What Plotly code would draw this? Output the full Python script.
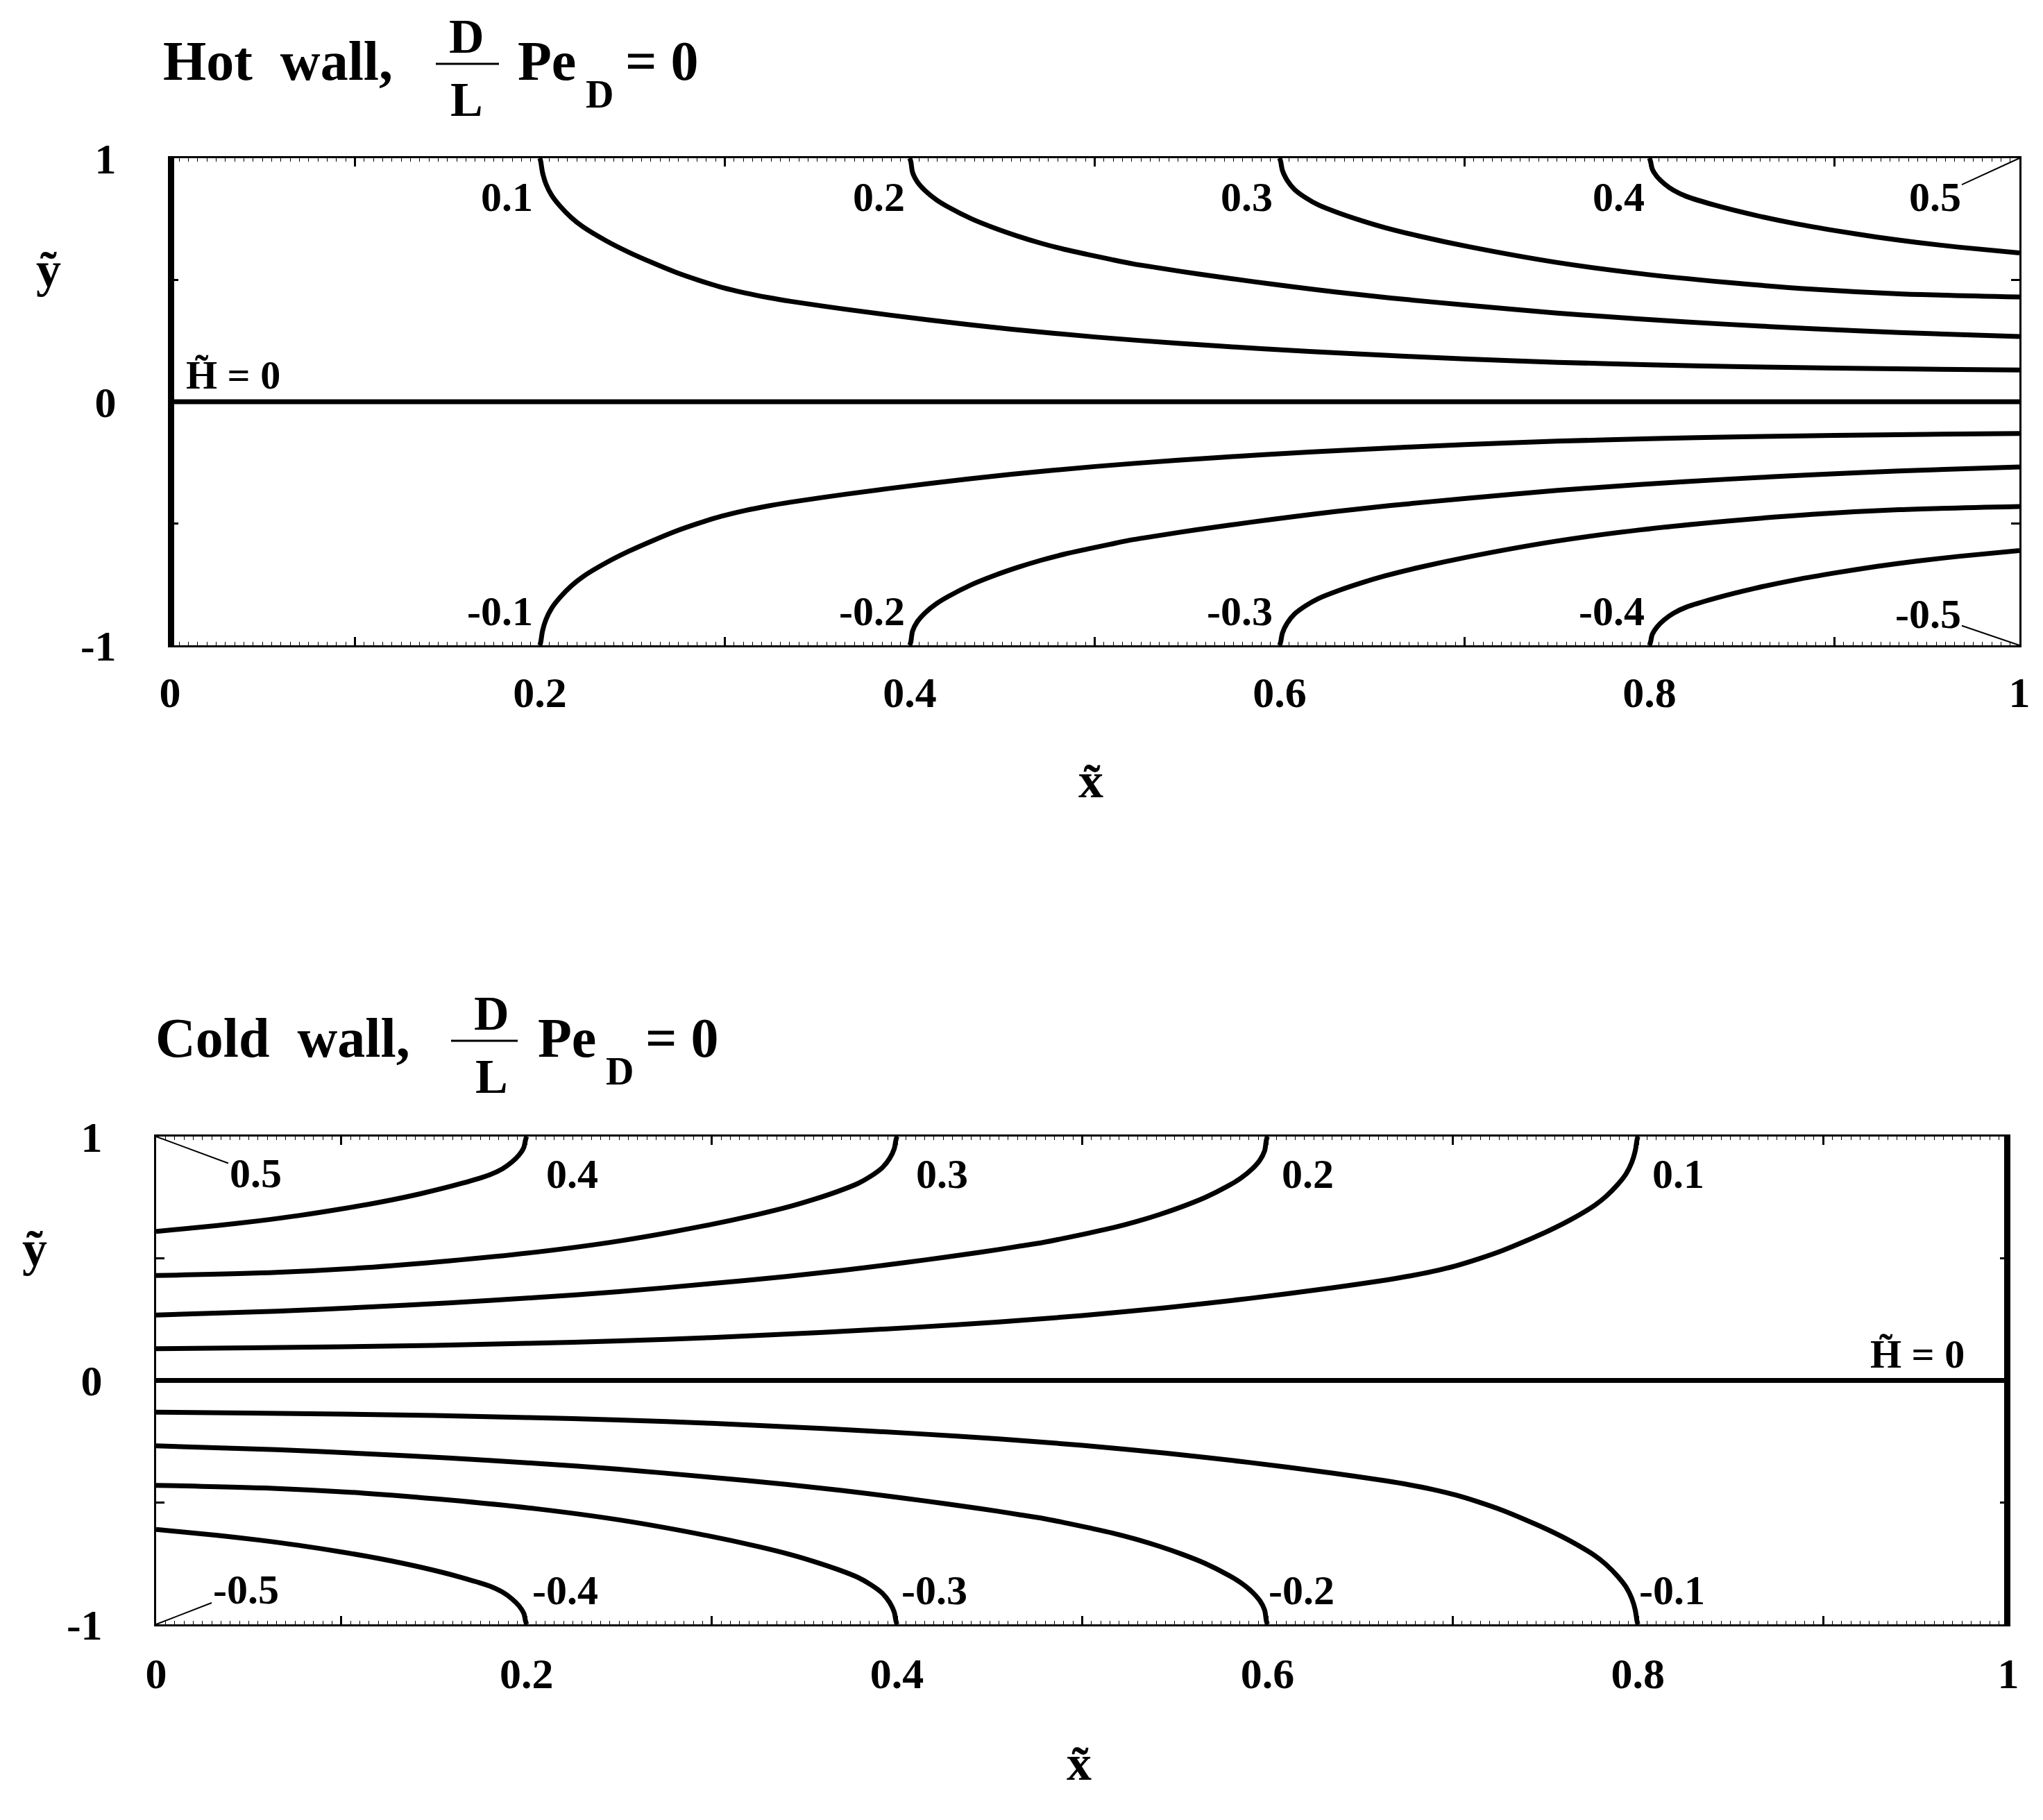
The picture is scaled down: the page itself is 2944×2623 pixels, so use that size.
import plotly.graph_objects as go

W, H = 2944, 2623

# ---------------- data ----------------
# Heatline levels (upper half of the "Hot wall" panel; other halves/panel are mirror images)
levels = [0.1, 0.2, 0.3, 0.4]

h01_x = [0.2000, 0.2005, 0.2014, 0.2033, 0.2064, 0.2108, 0.2170, 0.2233, 0.2358, 0.2483, 0.2608,
         0.2733, 0.2858, 0.2983, 0.3108, 0.3233, 0.3358, 0.365, 0.410, 0.455, 0.500, 0.545,
         0.590, 0.640, 0.700, 0.750, 0.800, 0.850, 0.900, 0.950, 1.000]
h01_y = [1.000, 0.985, 0.942, 0.894, 0.847, 0.804, 0.756, 0.718, 0.661, 0.613, 0.571,
         0.532, 0.499, 0.470, 0.447, 0.428, 0.412, 0.380, 0.336, 0.298, 0.266, 0.240,
         0.218, 0.197, 0.176, 0.162, 0.152, 0.144, 0.138, 0.134, 0.130]

h02_x = [0.4000, 0.4006, 0.4015, 0.4040, 0.4084, 0.4146, 0.4209, 0.4334, 0.4459, 0.4584, 0.4709,
         0.4834, 0.4959, 0.5084, 0.5209, 0.5334, 0.5459, 0.563, 0.585, 0.607, 0.630, 0.660,
         0.702, 0.750, 0.795, 0.842, 0.888, 0.935, 1.000]
h02_y = [1.000, 0.985, 0.942, 0.904, 0.866, 0.828, 0.799, 0.751, 0.713, 0.680, 0.651,
         0.626, 0.605, 0.585, 0.566, 0.551, 0.536, 0.517, 0.494, 0.472, 0.451, 0.426,
         0.396, 0.364, 0.340, 0.318, 0.300, 0.284, 0.268]

h03_x = [0.600, 0.6006, 0.6015, 0.604, 0.608, 0.614, 0.621, 0.632, 0.645, 0.657, 0.675, 0.702,
         0.749, 0.795, 0.842, 0.888, 0.935, 1.000]
h03_y = [1.000, 0.985, 0.950, 0.910, 0.872, 0.838, 0.808, 0.775, 0.742, 0.715, 0.681, 0.637,
         0.573, 0.526, 0.490, 0.462, 0.443, 0.430]

h04_x = [0.800, 0.8006, 0.8015, 0.804, 0.808, 0.813, 0.820, 0.835, 0.857, 0.879, 0.901, 0.923,
         0.945, 0.967, 1.000]
h04_y = [1.000, 0.985, 0.955, 0.925, 0.895, 0.868, 0.843, 0.808, 0.766, 0.731, 0.702, 0.676,
         0.654, 0.635, 0.611]

curves_x = [h01_x, h02_x, h03_x, h04_x]
curves_y = [h01_y, h02_y, h03_y, h04_y]

# label anchor positions (x of the label edge, y of label centre)
hot_label_x = [0.197, 0.398, 0.597, 0.798]
hot_label_y_up = 0.84
hot_label_y_dn = -0.86
cold_label_x_up = [0.2097, 0.4096, 0.607, 0.807]
cold_label_x_dn = [0.2025, 0.4015, 0.600, 0.800]
cold_label_y_up = 0.845
cold_label_y_dn = -0.86

x_tickvals = [0, 0.1, 0.2, 0.3, 0.4, 0.5, 0.6, 0.7, 0.8, 0.9, 1.0]
x_ticktext = ["0", "", "0.2", "", "0.4", "", "0.6", "", "0.8", "", "1"]
y_tickvals = [-1, -0.5, 0, 0.5, 1]
y_ticktext = ["-1", "", "0", "", "1"]

SERIF = "Liberation Serif"
LW = 7

fig = go.Figure()


def add_line(xs, ys, xa, ya, width=LW):
    fig.add_trace(go.Scatter(x=xs, y=ys, mode="lines", xaxis=xa, yaxis=ya,
                             line=dict(color="black", width=width, shape="spline", smoothing=0.8),
                             hoverinfo="skip", showlegend=False))


# ---- Hot wall panel (x, y) ----
for cx, cy in zip(curves_x, curves_y):
    add_line(cx, cy, "x", "y")
    add_line(cx, [-v for v in cy], "x", "y")
add_line([0, 1], [0, 0], "x", "y", width=7)
add_line([0, 0], [-1, 1], "x", "y", width=12)

# ---- Cold wall panel (mirror in x) ----
for cx, cy in zip(curves_x, curves_y):
    mx = [1 - v for v in cx]
    add_line(mx, cy, "x2", "y2")
    add_line(mx, [-v for v in cy], "x2", "y2")
add_line([0, 1], [0, 0], "x2", "y2", width=7)
add_line([1, 1], [-1, 1], "x2", "y2", width=12)

axis_font = dict(family=SERIF, size=62, color="black", weight="bold")


def xaxis_cfg(domain, anchor, standoff):
    return dict(domain=domain, anchor=anchor, range=[0, 1], tickmode="array", automargin=False,
                tickvals=x_tickvals, ticktext=x_ticktext, ticks="inside", ticklen=12,
                tickwidth=3, tickcolor="black", showline=True, linewidth=3, linecolor="black",
                mirror="ticks", showgrid=False, zeroline=False, tickfont=axis_font,
                ticklabelstandoff=standoff,
                minor=dict(ticks="inside", tickmode="linear", tick0=0, dtick=0.005,
                           ticklen=5, tickwidth=1, tickcolor="black", showgrid=False))


def yaxis_cfg(domain, anchor):
    return dict(domain=domain, anchor=anchor, range=[-1, 1], tickmode="array", automargin=False,
                tickvals=y_tickvals, ticktext=y_ticktext, ticks="inside", ticklen=12,
                tickwidth=3, tickcolor="black", showline=True, linewidth=3, linecolor="black",
                mirror="ticks", showgrid=False, zeroline=False, tickfont=axis_font,
                ticklabelstandoff=62)


fig.update_layout(
    template="none",
    width=W, height=H, margin=dict(l=0, r=0, t=0, b=0, pad=0), autosize=False,
    paper_bgcolor="white", plot_bgcolor="white", showlegend=False,
    xaxis=xaxis_cfg([245 / W, 2910 / W], "y", 12),
    yaxis=yaxis_cfg([1 - 930 / H, 1 - 228 / H], "x"),
    xaxis2=xaxis_cfg([225 / W, 2894 / W], "y2", 15),
    yaxis2=yaxis_cfg([1 - 2341 / H, 1 - 1638 / H], "x2"),
)

ann = []
lab_font = dict(family=SERIF, size=60, color="black", weight="bold")

# contour labels, hot panel
for lv, lx in zip(levels, hot_label_x):
    ann.append(dict(x=lx, y=hot_label_y_up, xref="x", yref="y", text=f"{lv:.1f}",
                    showarrow=False, xanchor="right", yanchor="middle", font=lab_font))
    ann.append(dict(x=lx, y=hot_label_y_dn, xref="x", yref="y", text=f"-{lv:.1f}",
                    showarrow=False, xanchor="right", yanchor="middle", font=lab_font))
# contour labels, cold panel
for lv, lxu, lxd in zip(levels[::-1], cold_label_x_up, cold_label_x_dn):
    ann.append(dict(x=lxu, y=cold_label_y_up, xref="x2", yref="y2", text=f"{lv:.1f}",
                    showarrow=False, xanchor="left", yanchor="middle", font=lab_font))
    ann.append(dict(x=lxd, y=cold_label_y_dn, xref="x2", yref="y2", text=f"-{lv:.1f}",
                    showarrow=False, xanchor="left", yanchor="middle", font=lab_font))


# 0.5 labels with leader lines to the corners
def leader(xr, yr, x, y, text, ax, ay):
    ann.append(dict(x=x, y=y, xref=xr, yref=yr, text=text, showarrow=True, arrowhead=0,
                    arrowwidth=2, arrowcolor="black", ax=ax, ay=ay, font=lab_font,
                    standoff=0))


leader("x", "y", 1, 1, "0.5", -122, 56)
leader("x", "y", 1, -1, "-0.5", -132, -45)
leader("x2", "y2", 0, 1, "0.5", 143, 53)
leader("x2", "y2", 0, -1, "-0.5", 129, -50)

# H = 0 labels
h_font = dict(family=SERIF, size=58, color="black", weight="bold")
ann.append(dict(x=0.008, y=0.0, xref="x", yref="y", text="H\u0303 = 0", showarrow=False,
                xanchor="left", yanchor="bottom", font=h_font, yshift=4))
ann.append(dict(x=0.977, y=0.0, xref="x2", yref="y2", text="H\u0303 = 0", showarrow=False,
                xanchor="right", yanchor="bottom", font=h_font, yshift=4))


def paper(text, px, py, size, xanchor="left", yanchor="middle"):
    ann.append(dict(x=px / W, y=1 - py / H, xref="paper", yref="paper", text=text,
                    showarrow=False, xanchor=xanchor, yanchor=yanchor,
                    font=dict(family=SERIF, size=size, color="black", weight="bold")))


# axis titles
for (tx, ty) in [(70, 389), (50, 1800)]:
    paper("y\u0303", tx, ty, 72, xanchor="center")
for (tx, ty) in [(1572, 1125), (1555, 2541)]:
    paper("x\u0303", tx, ty, 72, xanchor="center")

# titles
shapes = []
for (ty, name, wx, dcx, bar0, bar1, pex) in [
        (88, "Hot wall,", 233, 672, 628, 719, 744),
        (1496, "Cold wall,", 222, 708, 650, 746, 773)]:
    paper(name.replace(" ", "&nbsp;&nbsp;"), wx, ty, 80)
    paper("D", dcx, ty - 36, 70, xanchor="center")
    paper("L", dcx, ty + 55, 70, xanchor="center")
    shapes.append(dict(type="line", xref="paper", yref="paper", x0=bar0 / W, x1=bar1 / W,
                       y0=1 - (ty + 4) / H, y1=1 - (ty + 4) / H,
                       line=dict(color="black", width=3)))
    paper("Pe", pex, ty, 80)
    paper("D", pex + 98, ty + 48, 56)
    paper("= 0", pex + 155, ty, 80)

fig.update_layout(annotations=ann, shapes=shapes)

fig.write_html("out.html", config={"displayModeBar": False},
               post_script="document.body.style.margin='0';document.body.style.overflow='hidden';")
